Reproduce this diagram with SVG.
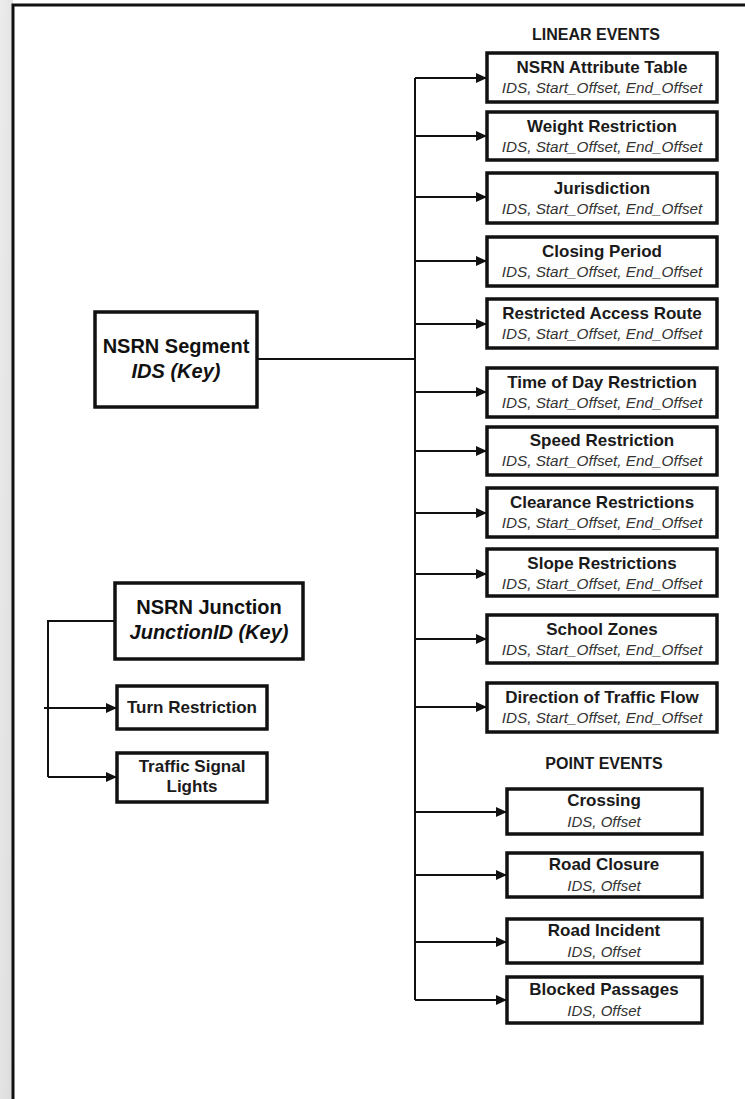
<svg xmlns="http://www.w3.org/2000/svg" width="745" height="1099" viewBox="0 0 745 1099">
<defs>
<marker id="arr" markerUnits="userSpaceOnUse" markerWidth="11" markerHeight="10" refX="11" refY="5" orient="auto">
<path d="M0,0 L11,5 L0,10 z" fill="#111"/>
</marker>
<linearGradient id="side" x1="0" y1="0" x2="1" y2="1">
<stop offset="0" stop-color="#ececec"/>
<stop offset="1" stop-color="#dcdcdc"/>
</linearGradient>
</defs>
<style>
.box{fill:#fff;stroke:#111;stroke-width:3.5}
.t{font-family:"Liberation Sans",Arial,sans-serif;font-weight:bold;font-size:17px;fill:#1a1a1a;text-anchor:middle}
.s{font-family:"Liberation Sans",Arial,sans-serif;font-style:italic;font-size:15.3px;fill:#333;text-anchor:middle}
.sp{font-family:"Liberation Sans",Arial,sans-serif;font-style:italic;font-size:15px;fill:#333;text-anchor:middle}
.big{font-family:"Liberation Sans",Arial,sans-serif;font-weight:bold;font-size:20px;fill:#111;text-anchor:middle}
.bigi{font-family:"Liberation Sans",Arial,sans-serif;font-weight:bold;font-style:italic;font-size:20px;fill:#111;text-anchor:middle}
.hdr{font-family:"Liberation Sans",Arial,sans-serif;font-weight:bold;font-size:16px;fill:#1a1a1a;text-anchor:middle}
.c{fill:none;stroke:#111;stroke-width:2}
.ca{fill:none;stroke:#111;stroke-width:2;marker-end:url(#arr)}
</style>
<rect x="0" y="0" width="745" height="1099" fill="#fff"/>
<rect x="0" y="0" width="13" height="1099" fill="url(#side)"/>
<path d="M13,1099 L13,5 L745,5" fill="none" stroke="#111" stroke-width="3"/>

<text class="hdr" x="596" y="40">LINEAR EVENTS</text>
<text class="hdr" x="604" y="769">POINT EVENTS</text>

<g id="connectors">
<line class="c" x1="415" y1="78" x2="415" y2="1000"/>
<line class="c" x1="257" y1="359" x2="415" y2="359"/>
<path class="ca" d="M415,78 H487"/>
<path class="ca" d="M415,136 H487"/>
<path class="ca" d="M415,197 H487"/>
<path class="ca" d="M415,261 H487"/>
<path class="ca" d="M415,324 H487"/>
<path class="ca" d="M415,392 H487"/>
<path class="ca" d="M415,451 H487"/>
<path class="ca" d="M415,513 H487"/>
<path class="ca" d="M415,574 H487"/>
<path class="ca" d="M415,639 H487"/>
<path class="ca" d="M415,707 H487"/>
<path class="ca" d="M415,812 H507"/>
<path class="ca" d="M415,875 H507"/>
<path class="ca" d="M415,942 H507"/>
<path class="ca" d="M415,1000 H507"/>
<path class="c" d="M115,621 H48 V777"/>
<path class="ca" d="M44,708 H117"/>
<path class="ca" d="M48,777 H117"/>
</g>

<g id="nsrn-segment">
<rect class="box" x="95" y="312" width="162" height="95"/>
<text class="big" x="176" y="353">NSRN Segment</text>
<text class="bigi" x="176" y="378">IDS (Key)</text>
</g>

<g id="nsrn-junction">
<rect class="box" x="115" y="583" width="188" height="76"/>
<text class="big" x="209" y="614">NSRN Junction</text>
<text class="bigi" x="209" y="639">JunctionID (Key)</text>
</g>

<g id="turn-restriction">
<rect class="box" x="117" y="686" width="150" height="43"/>
<text class="t" x="192" y="713">Turn Restriction</text>
</g>

<g id="traffic-signal-lights">
<rect class="box" x="117" y="753" width="150" height="49"/>
<text class="t" x="192" y="772">Traffic Signal</text>
<text class="t" x="192" y="792">Lights</text>
</g>

<g id="nsrn-attribute-table">
<rect class="box" x="487" y="53" width="230" height="49"/>
<text class="t" x="602" y="73">NSRN Attribute Table</text>
<text class="s" x="602" y="93">IDS, Start_Offset, End_Offset</text>
</g>
<g id="weight-restriction">
<rect class="box" x="487" y="112" width="230" height="48"/>
<text class="t" x="602" y="132">Weight Restriction</text>
<text class="s" x="602" y="152">IDS, Start_Offset, End_Offset</text>
</g>
<g id="jurisdiction">
<rect class="box" x="487" y="173" width="230" height="50"/>
<text class="t" x="602" y="194">Jurisdiction</text>
<text class="s" x="602" y="214">IDS, Start_Offset, End_Offset</text>
</g>
<g id="closing-period">
<rect class="box" x="487" y="237" width="230" height="49"/>
<text class="t" x="602" y="257">Closing Period</text>
<text class="s" x="602" y="277">IDS, Start_Offset, End_Offset</text>
</g>
<g id="restricted-access-route">
<rect class="box" x="487" y="299" width="230" height="49"/>
<text class="t" x="602" y="319">Restricted Access Route</text>
<text class="s" x="602" y="339">IDS, Start_Offset, End_Offset</text>
</g>
<g id="time-of-day-restriction">
<rect class="box" x="487" y="368" width="230" height="49"/>
<text class="t" x="602" y="388">Time of Day Restriction</text>
<text class="s" x="602" y="408">IDS, Start_Offset, End_Offset</text>
</g>
<g id="speed-restriction">
<rect class="box" x="487" y="427" width="230" height="48"/>
<text class="t" x="602" y="446">Speed Restriction</text>
<text class="s" x="602" y="466">IDS, Start_Offset, End_Offset</text>
</g>
<g id="clearance-restrictions">
<rect class="box" x="487" y="488" width="230" height="49"/>
<text class="t" x="602" y="508">Clearance Restrictions</text>
<text class="s" x="602" y="528">IDS, Start_Offset, End_Offset</text>
</g>
<g id="slope-restrictions">
<rect class="box" x="487" y="549" width="230" height="47"/>
<text class="t" x="602" y="569">Slope Restrictions</text>
<text class="s" x="602" y="589">IDS, Start_Offset, End_Offset</text>
</g>
<g id="school-zones">
<rect class="box" x="487" y="615" width="230" height="48"/>
<text class="t" x="602" y="635">School Zones</text>
<text class="s" x="602" y="655">IDS, Start_Offset, End_Offset</text>
</g>
<g id="direction-of-traffic-flow">
<rect class="box" x="487" y="683" width="230" height="49"/>
<text class="t" x="602" y="703">Direction of Traffic Flow</text>
<text class="s" x="602" y="723">IDS, Start_Offset, End_Offset</text>
</g>

<g id="crossing">
<rect class="box" x="507" y="789" width="195" height="45"/>
<text class="t" x="604" y="806">Crossing</text>
<text class="sp" x="604" y="827">IDS, Offset</text>
</g>
<g id="road-closure">
<rect class="box" x="507" y="853" width="195" height="44"/>
<text class="t" x="604" y="870">Road Closure</text>
<text class="sp" x="604" y="891">IDS, Offset</text>
</g>
<g id="road-incident">
<rect class="box" x="507" y="919" width="195" height="44"/>
<text class="t" x="604" y="936">Road Incident</text>
<text class="sp" x="604" y="957">IDS, Offset</text>
</g>
<g id="blocked-passages">
<rect class="box" x="507" y="977" width="195" height="46"/>
<text class="t" x="604" y="995">Blocked Passages</text>
<text class="sp" x="604" y="1016">IDS, Offset</text>
</g>
</svg>
